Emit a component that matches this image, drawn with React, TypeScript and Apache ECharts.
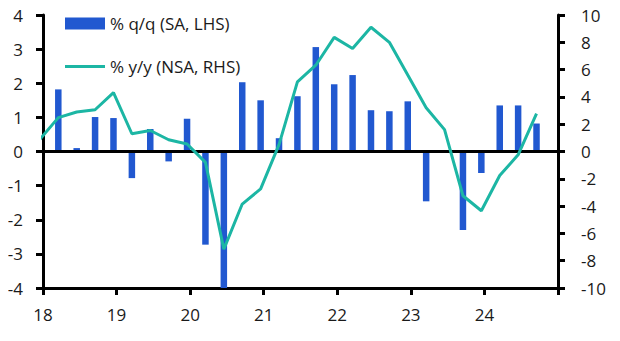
import React, { useEffect, useRef } from "react";
import * as echarts from "echarts";

const quarters = [
  "2018Q1","2018Q2","2018Q3","2018Q4",
  "2019Q1","2019Q2","2019Q3","2019Q4",
  "2020Q1","2020Q2","2020Q3","2020Q4",
  "2021Q1","2021Q2","2021Q3","2021Q4",
  "2022Q1","2022Q2","2022Q3","2022Q4",
  "2023Q1","2023Q2","2023Q3","2023Q4",
  "2024Q1","2024Q2","2024Q3",
];
const qoq = [
  1.82, 0.1, 1.01, 0.98,
  -0.78, 0.66, -0.29, 0.96,
  -2.73, -4.0, 2.03, 1.5,
  0.39, 1.62, 3.06, 1.97,
  2.24, 1.21, 1.18, 1.47,
  -1.46, 0.0, -2.3, -0.63,
  1.35, 1.35, 0.82,
];
const lineQuarters = ["2017Q4", ...quarters];
const yoy = [
  0.9,
  2.48, 2.89, 3.06, 4.31,
  1.3, 1.54, 0.86, 0.55,
  -0.8, -7.15, -3.85, -2.74,
  0.5, 5.1, 6.32, 8.36,
  7.55, 9.1, 8.0, 5.6,
  3.21, 1.6, -3.24, -4.34,
  -1.76, -0.24, 2.77,
];
const xTicks = ["18", "19", "20", "21", "22", "23", "24"];
const leftTicks = [-4, 4, 1];
const rightTicks = [-10, 10, 2];
const BAR_NAME = "% q/q (SA, LHS)";
const LINE_NAME = "% y/y (NSA, RHS)";

const toX = (q: string) => {
  const year = parseInt(q.slice(2, 4), 10);
  const qi = parseInt(q.slice(5), 10);
  return year + (qi - 1) * 0.25 + 0.208;
};

const FONT = "Open Sans";
const FS = 17;
const BLUE = "#2158d0";
const TEAL = "#1cb6a4";
const TXT = "#1a1a1a";

export default function App() {
  const ref = useRef<HTMLDivElement>(null);
  useEffect(() => {
    if (!ref.current) return;
    const chart = echarts.init(ref.current, undefined, { renderer: "svg" });
    const axisLine = { show: true, onZero: false, lineStyle: { color: "#000", width: 3 } };
    const axisTick = { show: true, inside: false, length: 7, lineStyle: { color: "#000", width: 3 } };
    chart.setOption({
      animation: false,
      textStyle: { fontFamily: FONT },
      grid: { left: 43, right: 62, top: 15, bottom: 53, containLabel: false },
      legend: [
        {
          left: 60,
          top: 10,
          itemWidth: 40,
          itemHeight: 12,
          itemGap: 5,
          textStyle: { fontFamily: FONT, fontSize: FS, color: TXT },
          data: [{ name: BAR_NAME, icon: "rect" }],
          selectedMode: false,
        },
        {
          left: 60,
          top: 53,
          itemWidth: 40,
          itemHeight: 3,
          itemGap: 5,
          textStyle: { fontFamily: FONT, fontSize: FS, color: TXT },
          data: [{ name: LINE_NAME, icon: "rect", itemStyle: { color: TEAL } }],
          selectedMode: false,
        },
      ],
      xAxis: {
        type: "value",
        min: 18,
        max: 25,
        interval: 1,
        axisLine,
        axisTick,
        splitLine: { show: false },
        axisLabel: {
          fontFamily: FONT,
          fontSize: FS,
          color: TXT,
          margin: 18,
          formatter: (v: number) => {
            const s = String(Math.round(v) % 100);
            return xTicks.includes(s) ? s : "";
          },
        },
      },
      yAxis: [
        {
          type: "value",
          min: leftTicks[0],
          max: leftTicks[1],
          interval: leftTicks[2],
          position: "left",
          axisLine,
          axisTick,
          splitLine: { show: false },
          axisLabel: { fontFamily: FONT, fontSize: FS, color: TXT, margin: 20 },
        },
        {
          type: "value",
          min: rightTicks[0],
          max: rightTicks[1],
          interval: rightTicks[2],
          position: "right",
          axisLine,
          axisTick,
          splitLine: { show: false },
          axisLabel: { fontFamily: FONT, fontSize: FS, color: TXT, margin: 23 },
        },
      ],
      series: [
        {
          name: BAR_NAME,
          type: "bar",
          yAxisIndex: 0,
          barWidth: 6.5,
          itemStyle: { color: BLUE },
          data: quarters.map((q, i) => [toX(q), qoq[i]]),
          markLine: {
            silent: true,
            symbol: "none",
            label: { show: false },
            lineStyle: { color: "#000", width: 3, type: "solid" },
            data: [{ yAxis: 0 }],
          },
        },
        {
          name: LINE_NAME,
          type: "line",
          yAxisIndex: 1,
          symbol: "none",
          clip: true,
          lineStyle: { color: TEAL, width: 3 },
          itemStyle: { color: TEAL },
          data: lineQuarters.map((q, i) => [toX(q), yoy[i]]),
          z: 5,
        },
      ],
    });
    return () => chart.dispose();
  }, []);
  return <div ref={ref} style={{ width: 620, height: 341, margin: -8 }} />;
}
